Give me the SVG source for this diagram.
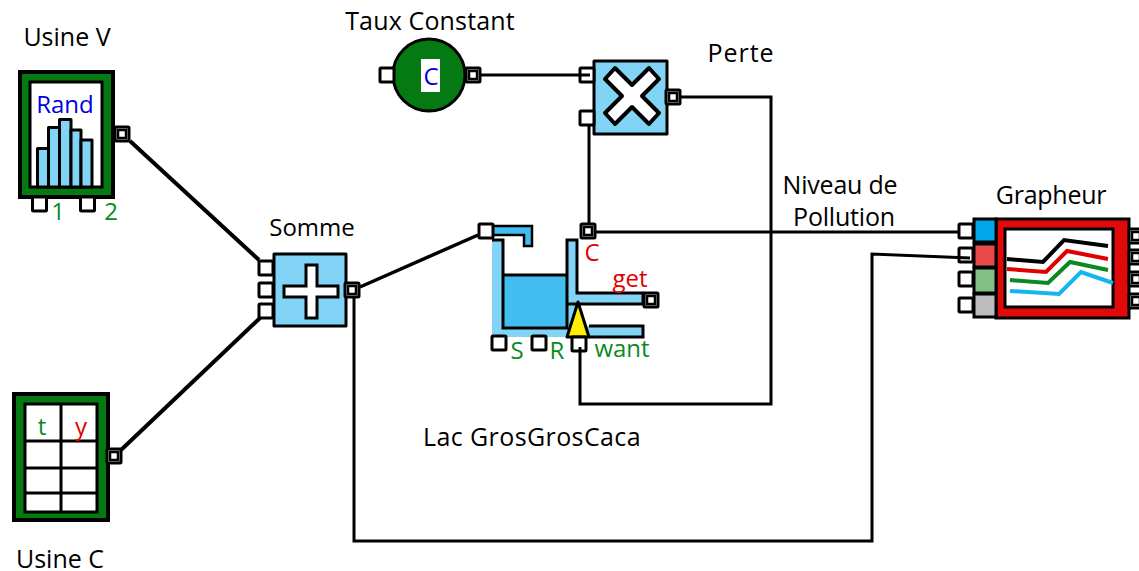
<svg xmlns="http://www.w3.org/2000/svg" width="1139" height="571" viewBox="0 0 1139 571">
<style>
text{font-family:"Open Sans",sans-serif;font-size:24px;fill:#000;text-anchor:middle}
.t{font-size:25px}
.b{fill:#0000e0}.g{fill:#0a8a1e}.r{fill:#e00000}
.lb{fill:#82d4f6;stroke:#000;stroke-width:3;stroke-linejoin:round}
.gr{fill:#057a12;stroke:#000;stroke-width:4}
.con{fill:none;stroke:#000;stroke-width:3}
.thick{stroke-width:4}
.pl{fill:none;stroke-width:4}
</style>
<defs>
<g id="pw"><rect x="-7" y="-7" width="14" height="14" rx="1" fill="#fff" stroke="#000" stroke-width="3"/></g>
<g id="pd"><rect x="-7" y="-7" width="14" height="14" rx="1" fill="#fff" stroke="#000" stroke-width="3"/><rect x="-4" y="-4" width="8" height="8" fill="none" stroke="#000" stroke-width="2.500"/></g>
</defs>
<g id="usine-v">
<rect class="gr" x="20" y="72" width="93" height="125"/>
<rect x="30" y="82" width="72" height="105" fill="#fff" stroke="#000" stroke-width="3"/>
<rect class="lb" x="37.500" y="148.500" width="11" height="38.500"/>
<rect class="lb" x="48.500" y="127.500" width="11" height="59.500"/>
<rect class="lb" x="59.500" y="119.500" width="11.500" height="67.500"/>
<rect class="lb" x="71" y="130" width="10" height="57"/>
<rect class="lb" x="81" y="140" width="11" height="47"/>
<text class="b" x="65" y="113">Rand</text>
<use href="#pw" x="39.500" y="204"/><use href="#pw" x="87.500" y="204"/>
<use href="#pd" x="122" y="134"/>
<text class="g" x="58" y="220">1</text>
<text class="g" x="111" y="220">2</text>
<text class="t" x="67" y="46">Usine V</text>
</g>
<g id="usine-c">
<rect class="gr" x="14" y="394" width="94" height="126"/>
<rect x="24" y="403" width="73" height="109" fill="#fff"/>
<path d="M25 404H97V512H25ZM61 404V512M25 441H97M25 468H97M25 493H97" fill="none" stroke="#000" stroke-width="3"/>
<text class="g" x="42" y="435">t</text>
<text class="r" x="81" y="435">y</text>
<use href="#pd" x="114" y="456"/>
<text class="t" x="60" y="568">Usine C</text>
</g>
<g id="somme">
<rect class="lb" x="274" y="254" width="72" height="72"/>
<path d="M306 265H317V286H338V297H317V318H306V297H284V286H306Z" fill="#fff" stroke="#000" stroke-width="3"/>
<use href="#pw" x="266" y="268"/><use href="#pw" x="266" y="290"/><use href="#pw" x="266" y="311"/>
<use href="#pd" x="352" y="290"/>
<text x="312" y="236">Somme</text>
</g>
<g id="taux-constant">
<circle cx="429" cy="75" r="36" fill="#057a12" stroke="#000" stroke-width="3"/>
<rect x="421" y="59" width="19" height="33" fill="#fff"/>
<text class="b" x="431" y="85">C</text>
<use href="#pw" x="387" y="75"/><use href="#pd" x="473" y="75"/>
<text class="t" x="430" y="30" style="letter-spacing:.15px">Taux Constant</text>
</g>
<g id="perte">
<rect class="lb" x="594" y="61" width="73" height="73"/>
<path d="M632 85L649 68L659 79L642 96L659 113L649 124L632 107L615 124L605 113L622 96L605 79L615 68Z" fill="#fff" stroke="#000" stroke-width="4" stroke-linejoin="round"/>
<use href="#pw" x="587" y="75"/><use href="#pw" x="587" y="118"/>
<use href="#pd" x="673" y="97"/>
<text class="t" x="741" y="62" style="letter-spacing:1px">Perte</text>
</g>
<g id="lac">
<path d="M493 226H532V246H524V235H493Z" fill="#42bdf0"/>
<path d="M493 226H532V246H524V235H493" fill="none" stroke="#000" stroke-width="2.500"/>
<rect x="503" y="275" width="64" height="53" fill="#42bdf0"/>
<path d="M492 240H503V328H567V240H578V293H643V304H578V326H643V337H492Z" fill="#82d4f6"/>
<path d="M492 240H503V328H567V240H577V293H643V304H567M503 275H567M589 326H643V337H589" fill="none" stroke="#000" stroke-width="3"/>
<path d="M578 302L589 337H567Z" fill="#ffee00" stroke="#000" stroke-width="3" stroke-linejoin="round"/>
<use href="#pw" x="486" y="231"/><use href="#pd" x="588" y="231"/>
<use href="#pd" x="651" y="300"/>
<use href="#pw" x="499" y="343"/><use href="#pw" x="539" y="343"/><use href="#pw" x="579" y="344"/>
<text class="r" x="592" y="261">C</text>
<text class="r" x="630" y="287">get</text>
<text class="g" x="517" y="359">S</text>
<text class="g" x="557" y="359">R</text>
<text class="g" x="622" y="357">want</text>
<text class="t" x="532" y="446" style="letter-spacing:.4px">Lac GrosGrosCaca</text>
</g>
<g id="niveau">
<text class="t" x="840" y="194" style="letter-spacing:-.2px">Niveau de</text>
<text class="t" x="844" y="226" style="letter-spacing:-.2px">Pollution</text>
</g>
<g id="grapheur">
<rect x="996" y="219" width="133" height="99" fill="#e00a0a" stroke="#000" stroke-width="3"/>
<rect x="1005" y="229" width="108" height="78" fill="#fff" stroke="#000" stroke-width="3"/>
<rect x="974" y="219" width="22" height="23" fill="#00a8ea" stroke="#000" stroke-width="3"/>
<rect x="974" y="244" width="22" height="23" fill="#e84a4a" stroke="#000" stroke-width="3"/>
<rect x="974" y="268" width="22" height="25" fill="#82c085" stroke="#000" stroke-width="3"/>
<rect x="974" y="294" width="22" height="23" fill="#bdbdbd" stroke="#000" stroke-width="3"/>
<path class="pl" stroke="#000" d="M1007 259L1043 262L1064 240L1108 246"/>
<path class="pl" stroke="#e00000" d="M1007 269L1046 272L1067 251L1108 259"/>
<path class="pl" stroke="#0a8a1e" d="M1010 280L1048 283L1070 262L1108 270"/>
<path class="pl" stroke="#14b4ee" d="M1010 291L1059 294L1081 272L1113 283"/>
<use href="#pw" x="966" y="231"/><use href="#pw" x="966" y="255"/><use href="#pw" x="966" y="279"/><use href="#pw" x="966" y="305"/>
<use href="#pd" x="1136" y="236"/><use href="#pd" x="1136" y="257"/><use href="#pd" x="1136" y="279"/><use href="#pd" x="1136" y="301"/>
<text class="t" x="1051" y="204" style="letter-spacing:-.25px">Grapheur</text>
</g>
<g id="connectors">
<path class="con thick" d="M130 141L259 260"/>
<path class="con thick" d="M121 450L260 318"/>
<path class="con" style="stroke-width:3.500" d="M360 287L478 235"/>
<path class="con" d="M354 298V541H872V254L970 258"/>
<path class="con" d="M481 75H590"/>
<path class="con" d="M589 125V224"/>
<path class="con" d="M596 232H959"/>
<path class="con" d="M681 97H771V404H580V347"/>
</g>
</svg>
